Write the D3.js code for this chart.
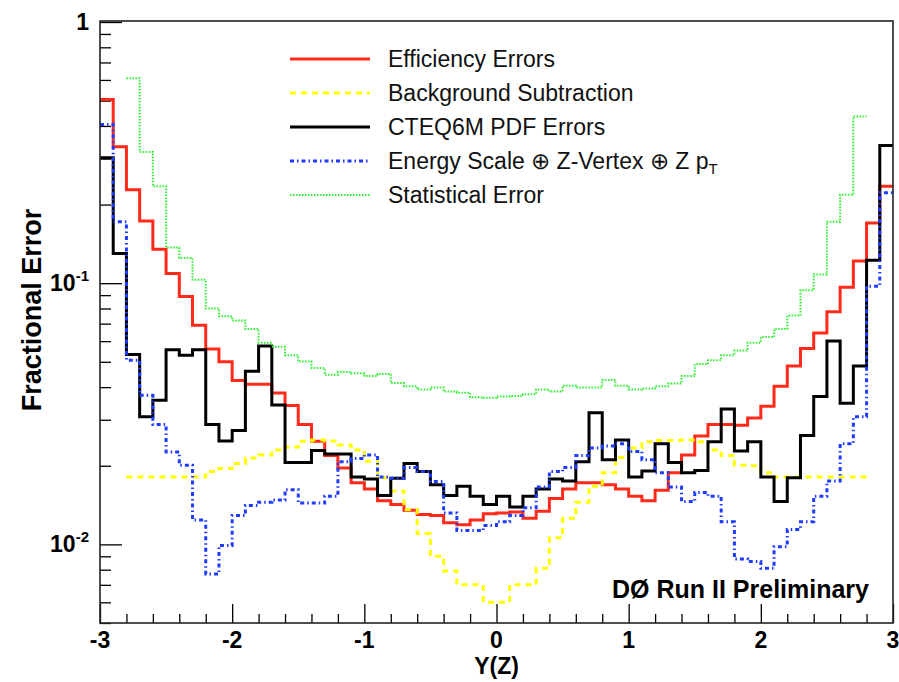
<!DOCTYPE html>
<html>
<head>
<meta charset="utf-8">
<script src="https://cdn.jsdelivr.net/npm/d3@7"></script>
<style>
  body { margin: 0; background: #fff; }
  svg { display: block; font-family: "Liberation Sans", Arial, Helvetica, sans-serif; }
</style>
</head>
<body>
<div id="chart"></div>
<script>
// histogram binning: 60 bins of 0.1 in Y(Z), from -3 to 3
const binStart = -3;
const binWidth = 0.1;

// fractional errors per bin (null = bin not drawn)
const efficiencyErr = [
  0.505, 0.333, 0.228, 0.173, 0.135, 0.109, 0.089, 0.069, 0.056, 0.050,
  0.0424, 0.041, 0.041, 0.038, 0.034, 0.0288, 0.0248, 0.0219, 0.0196, 0.0172,
  0.0163, 0.0147, 0.0142, 0.0135, 0.013, 0.0129, 0.0121, 0.0119, 0.0124, 0.0131,
  0.0132, 0.0133, 0.0126, 0.0134, 0.015, 0.0163, 0.0172, 0.0172, 0.0169, 0.0163,
  0.0153, 0.0147, 0.0161, 0.0188, 0.022, 0.026, 0.0288, 0.0288, 0.0286, 0.0305,
  0.0338, 0.0403, 0.0482, 0.0562, 0.0645, 0.0778, 0.0964, 0.1216, 0.170, 0.235
];
const backgroundErr = [
  null, null, 0.0181, 0.0181, 0.0181, 0.0181, 0.0181, 0.0181, 0.019, 0.0195,
  0.0204, 0.0214, 0.022, 0.023, 0.0236, 0.0248, 0.0251, 0.0249, 0.024, 0.023,
  0.0208, 0.018, 0.016, 0.0136, 0.011, 0.009, 0.0079, 0.0070, 0.0070, 0.0060,
  0.0060, 0.0070, 0.0070, 0.0081, 0.0106, 0.0126, 0.0145, 0.0167, 0.0188, 0.0215,
  0.0234, 0.0247, 0.025, 0.025, 0.0251, 0.0247, 0.023, 0.0219, 0.0201, 0.020,
  0.0188, 0.0181, 0.0181, 0.0181, 0.0181, 0.0181, 0.0181, 0.0181, null, null
];
const pdfErr = [
  0.302, 0.130, 0.0533, 0.0308, 0.0356, 0.0556, 0.053, 0.0556, 0.0288, 0.0249,
  0.0273, 0.046, 0.0575, 0.0342, 0.0206, 0.0206, 0.0229, 0.0222, 0.0222, 0.0181,
  0.0178, 0.0154, 0.0179, 0.0204, 0.019, 0.0169, 0.0154, 0.0167, 0.0153, 0.0142,
  0.0153, 0.0139, 0.0153, 0.0163, 0.0178, 0.0175, 0.0207, 0.0319, 0.0211, 0.0251,
  0.0181, 0.0191, 0.0243, 0.0206, 0.0188, 0.0192, 0.0247, 0.033, 0.0228, 0.0247,
  0.0181, 0.0146, 0.018, 0.0261, 0.0368, 0.0601, 0.0347, 0.0482, 0.1225, 0.337
];
const energyScaleErr = [
  0.405, 0.172, 0.0507, 0.0372, 0.0288, 0.0226, 0.0201, 0.0124, 0.0077, 0.0099,
  0.0129, 0.0141, 0.0145, 0.0148, 0.0162, 0.0144, 0.0144, 0.0153, 0.0207, 0.0213,
  0.022, 0.0181, 0.0179, 0.0197, 0.019, 0.0174, 0.0132, 0.0113, 0.0113, 0.0118,
  0.0122, 0.0129, 0.0138, 0.0166, 0.019, 0.0197, 0.0219, 0.0234, 0.0238, 0.0243,
  0.0227, 0.0211, 0.0188, 0.0166, 0.0146, 0.0158, 0.0153, 0.0122, 0.0088, 0.0086,
  0.0081, 0.0098, 0.0114, 0.0122, 0.0153, 0.0175, 0.0243, 0.0308, 0.0973, 0.222
];
const statErr = [
  null, null, 0.609, 0.318, 0.235, 0.137, 0.125, 0.103, 0.080, 0.0747,
  0.072, 0.0667, 0.0592, 0.0571, 0.053, 0.0501, 0.0473, 0.0446, 0.0457, 0.0452,
  0.0441, 0.0449, 0.0415, 0.0403, 0.0392, 0.0399, 0.0385, 0.0381, 0.0366, 0.0364,
  0.0368, 0.037, 0.0376, 0.0392, 0.0385, 0.0405, 0.0399, 0.0399, 0.0426, 0.0405,
  0.0392, 0.0395, 0.0403, 0.0413, 0.0441, 0.049, 0.0507, 0.053, 0.0552, 0.0592,
  0.0622, 0.0667, 0.0752, 0.094, 0.108, 0.172, 0.218, 0.435, null, null
];

const xMajorTicks = [-3, -2, -1, 0, 1, 2, 3];
const yMajorTicks = [1, 0.1, 0.01];
const yTickLabels = [["1", ""], ["10", "-1"], ["10", "-2"]];

const series = [
  { name: "Efficiency Errors", values: efficiencyErr, color: "#ff2a1a", width: 3, dash: null },
  { name: "Background Subtraction", values: backgroundErr, color: "#ffff00", width: 3, dash: "6,5" },
  { name: "CTEQ6M PDF Errors", values: pdfErr, color: "#000000", width: 3, dash: null },
  { name: "Energy Scale", values: energyScaleErr, color: "#1f3bff", width: 3, dash: "4,3,1.5,3" },
  { name: "Statistical Error", values: statErr, color: "#2ef02e", width: 2, dash: "1.5,1.5" }
];

const width = 899, height = 682;
const margin = { left: 100, right: 6, top: 21, bottom: 59 };

const svg = d3.select("#chart").append("svg")
  .attr("width", width)
  .attr("height", height);

const x = d3.scaleLinear().domain([-3, 3]).range([margin.left, width - margin.right]);
const y = d3.scaleLog().domain([0.005, 1]).range([height - margin.bottom, margin.top + 1]);

// axes: ticks pointing into the frame
const xMinor = d3.range(-28, 29, 2).map((d) => d / 10).filter((d) => Math.round(d * 10) % 10 !== 0);
svg.append("g")
  .attr("transform", `translate(0,${y.range()[0]})`)
  .call(d3.axisBottom(x).tickValues(xMinor).tickSize(-9).tickFormat(""))
  .call((g) => g.select(".domain").remove());
svg.append("g")
  .attr("transform", `translate(0,${y.range()[0]})`)
  .call(d3.axisBottom(x).tickValues(xMajorTicks).tickSize(-19).tickFormat(""))
  .call((g) => g.select(".domain").remove());

const yMinor = [];
[0.001, 0.01, 0.1].forEach((dec) => {
  for (let m = 2; m <= 9; m++) {
    const v = m * dec;
    if (v >= 0.005 && v < 1) yMinor.push(v);
  }
});
svg.append("g")
  .attr("transform", `translate(${margin.left},0)`)
  .call(d3.axisLeft(y).tickValues(yMinor).tickSize(-11).tickFormat(""))
  .call((g) => g.select(".domain").remove());
svg.append("g")
  .attr("transform", `translate(${margin.left},0)`)
  .call(d3.axisLeft(y).tickValues(yMajorTicks).tickSize(-22).tickFormat(""))
  .call((g) => g.select(".domain").remove());

svg.selectAll(".tick line").attr("stroke", "#000").attr("stroke-width", 1.3);

// histograms as step lines
const stepLine = d3.line()
  .x((d) => x(d[0]))
  .y((d) => y(d[1]))
  .curve(d3.curveStepAfter);

function histPoints(values) {
  const pts = [];
  values.forEach((v, i) => {
    if (v == null) return;
    pts.push([binStart + i * binWidth, v]);
  });
  // close the last bin at its right edge
  const lastIdx = values.length - 1 - [...values].reverse().findIndex((v) => v != null);
  pts.push([binStart + (lastIdx + 1) * binWidth, values[lastIdx]]);
  return pts;
}

const plot = svg.append("g");
series.forEach((s) => {
  plot.append("path")
    .attr("d", stepLine(histPoints(s.values)))
    .attr("fill", "none")
    .attr("stroke", s.color)
    .attr("stroke-width", s.width)
    .attr("stroke-dasharray", s.dash)
    .attr("stroke-linejoin", "miter");
});

// frame
svg.append("rect")
  .attr("x", x(-3))
  .attr("y", y(1) - 1)
  .attr("width", x(3) - x(-3))
  .attr("height", y(0.005) - y(1) + 1)
  .attr("fill", "none")
  .attr("stroke", "#222")
  .attr("stroke-width", 1.6);

// x tick labels
svg.append("g").selectAll("text")
  .data(xMajorTicks)
  .join("text")
  .attr("x", (d) => x(d))
  .attr("y", 648)
  .attr("text-anchor", "middle")
  .attr("font-size", 23)
  .attr("font-weight", "bold")
  .text((d) => (d < 0 ? "-" + Math.abs(d) : d));

// y tick labels with superscript exponents
const yl = svg.append("g").selectAll("text")
  .data(yMajorTicks)
  .join("text")
  .attr("x", 89)
  .attr("y", (d) => y(d) + 8)
  .attr("text-anchor", "end")
  .attr("font-size", 23)
  .attr("font-weight", "bold");
yl.append("tspan").text((d, i) => yTickLabels[i][0]);
yl.append("tspan")
  .attr("font-size", 15)
  .attr("dy", -10)
  .text((d, i) => yTickLabels[i][1]);

// axis titles
svg.append("text")
  .attr("x", x(0))
  .attr("y", 674)
  .attr("text-anchor", "middle")
  .attr("font-size", 23)
  .attr("font-weight", "bold")
  .text("Y(Z)");

svg.append("text")
  .attr("transform", `translate(41,${310}) rotate(-90)`)
  .attr("text-anchor", "middle")
  .attr("font-size", 27)
  .attr("font-weight", "bold")
  .text("Fractional Error");

// legend
const legend = svg.append("g");
const rowY = [59, 93, 127, 161, 195];
series.forEach((s, i) => {
  legend.append("line")
    .attr("x1", 290).attr("x2", 370)
    .attr("y1", rowY[i]).attr("y2", rowY[i])
    .attr("stroke", s.color)
    .attr("stroke-width", s.width)
    .attr("stroke-dasharray", s.dash);
  const t = legend.append("text")
    .attr("x", 388)
    .attr("y", rowY[i] + 8)
    .attr("font-size", 23)
    .attr("fill", "#111");
  if (i === 3) {
    t.append("tspan").text("Energy Scale \u2295 Z-Vertex \u2295 Z p");
    t.append("tspan").attr("font-size", 15).attr("dy", 5).text("T");
  } else {
    t.text(s.name);
  }
});

svg.append("text")
  .attr("x", 612)
  .attr("y", 598)
  .attr("font-size", 25)
  .attr("font-weight", "bold")
  .text("D\u00D8 Run II Preliminary");
</script>
</body>
</html>
